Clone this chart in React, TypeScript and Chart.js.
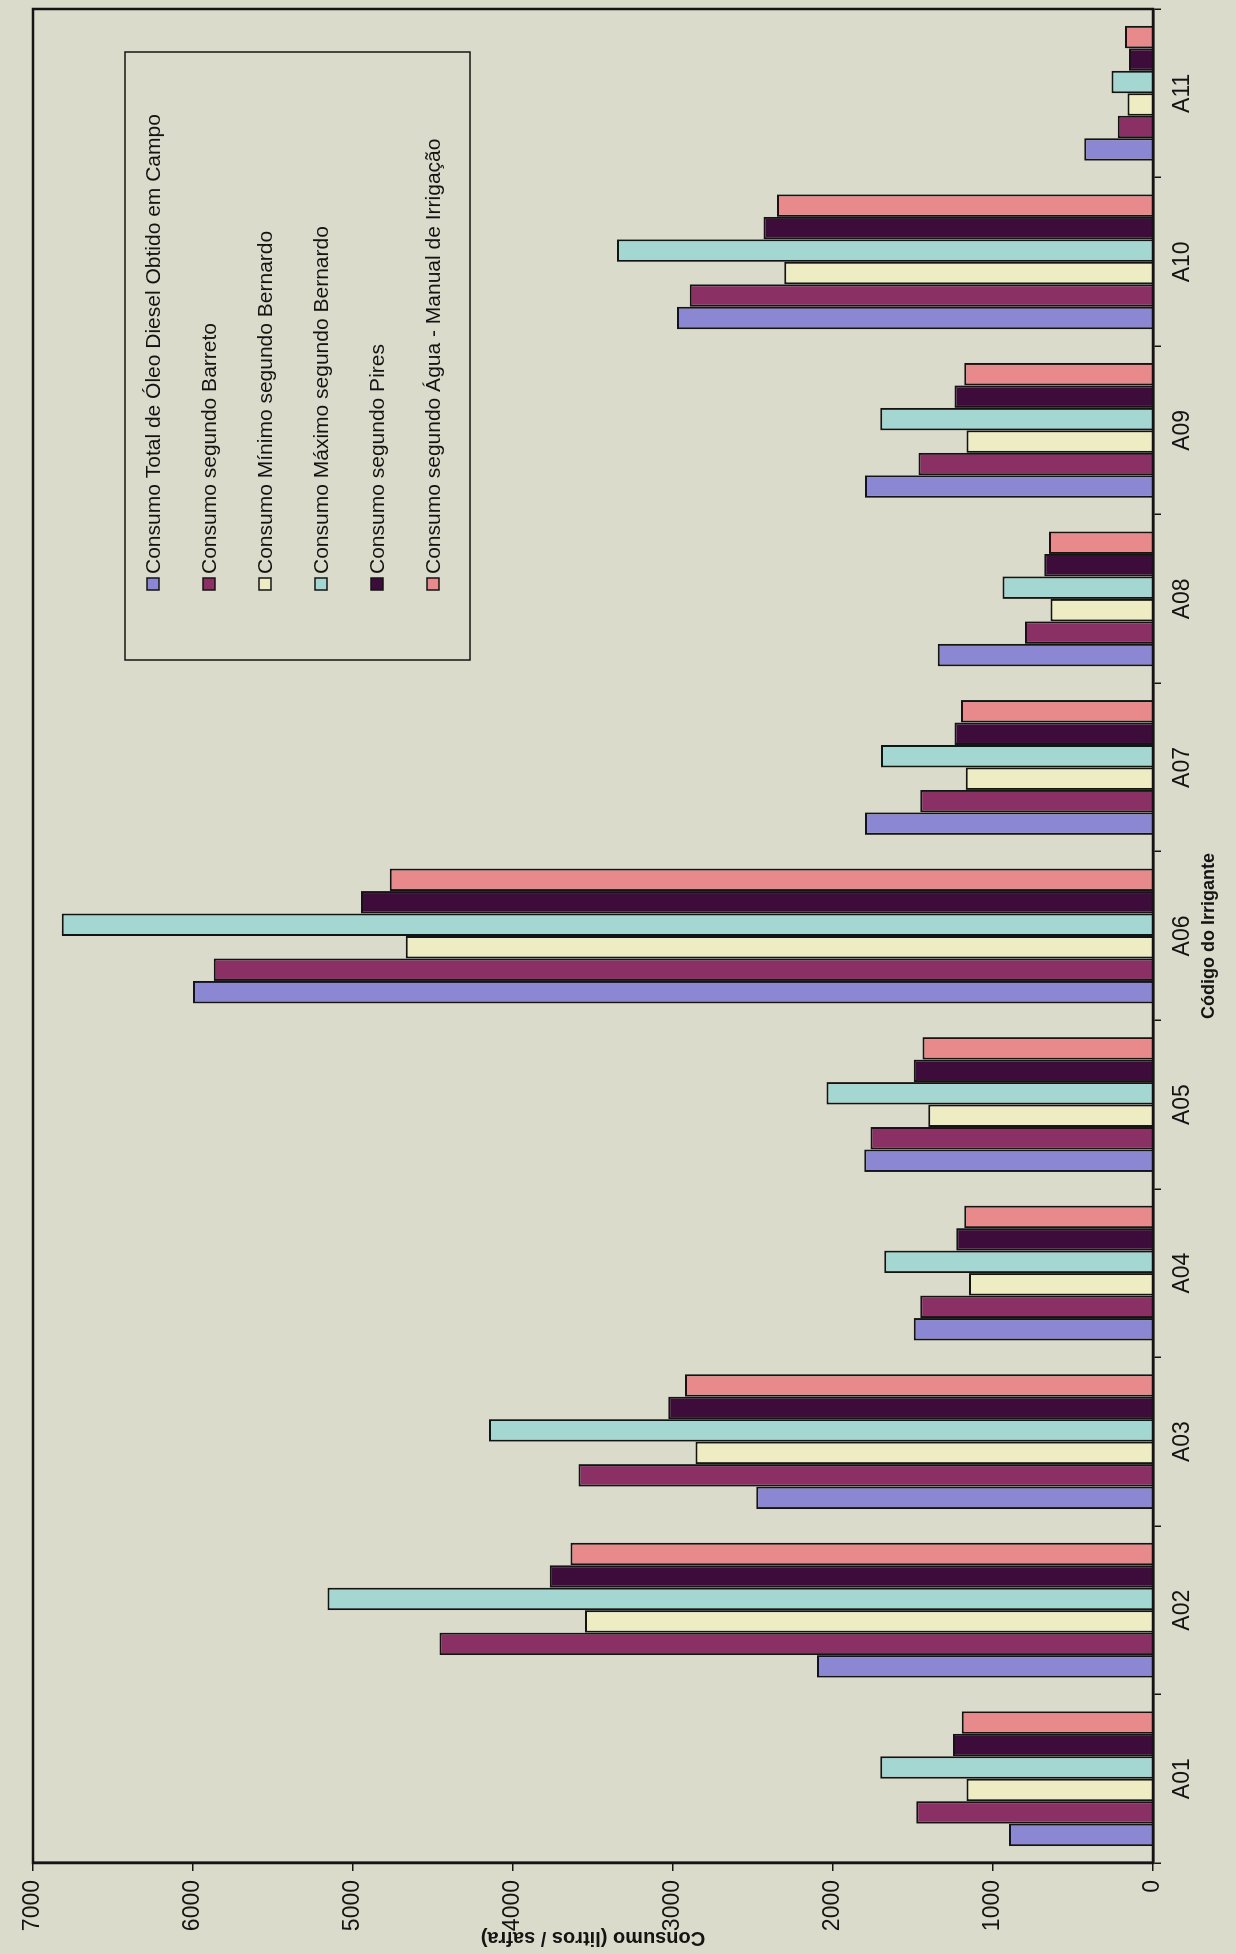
import React, { useEffect, useRef } from 'react';
import { Chart, registerables } from 'chart.js';

Chart.register(...registerables);

// ---- data ----
const categories = ['A01', 'A02', 'A03', 'A04', 'A05', 'A06', 'A07', 'A08', 'A09', 'A10', 'A11'];
const totalCampo = [900, 2100, 2480, 1495, 1805, 6000, 1800, 1345, 1800, 2975, 430];
const barreto = [1480, 4460, 3590, 1455, 1765, 5870, 1455, 800, 1465, 2895, 220];
const minimoBernardo = [1165, 3550, 2860, 1150, 1405, 4670, 1170, 640, 1165, 2305, 160];
const maximoBernardo = [1705, 5160, 4150, 1680, 2040, 6820, 1700, 940, 1705, 3350, 260];
const pires = [1250, 3770, 3030, 1230, 1495, 4950, 1240, 680, 1240, 2435, 150];
const aguaManual = [1195, 3640, 2925, 1180, 1440, 4770, 1200, 650, 1180, 2350, 175];

const seriesLabels = [
  'Consumo Total de Óleo Diesel Obtido em Campo',
  'Consumo segundo Barreto',
  'Consumo Mínimo segundo Bernardo',
  'Consumo Máximo segundo Bernardo',
  'Consumo segundo Pires',
  'Consumo segundo Água - Manual de Irrigação',
];
const seriesValues = [totalCampo, barreto, minimoBernardo, maximoBernardo, pires, aguaManual];
const seriesColors = ['#8b87d3', '#8a3064', '#eeecc2', '#a4d7d1', '#3e0c3a', '#e8898c'];

const valueTickLabels = ['0', '1000', '2000', '3000', '4000', '5000', '6000', '7000'];
const valueMin = 0;
const valueMax = 7000;
const valueStep = 1000;
const valueTitle = 'Consumo (litros / safra)';
const categoryTitle = 'Código do Irrigante';

const BG = '#dadbcb';
const INK = '#141414';
const FONT = "'Liberation Sans', Arial, sans-serif";

// canvas drawn unrotated, then turned 90° counter-clockwise (as in the scan)
const CW = 1954;
const CH = 1236;

const bgPlugin = {
  id: 'bg',
  beforeDraw(chart: any) {
    const { ctx, width, height } = chart;
    ctx.save();
    ctx.fillStyle = BG;
    ctx.fillRect(0, 0, width, height);
    ctx.restore();
  },
};

const framePlugin = {
  id: 'frame',
  afterDraw(chart: any) {
    const { ctx, chartArea } = chart;
    const { left, right, top, bottom } = chartArea;
    ctx.save();
    ctx.strokeStyle = INK;
    ctx.lineWidth = 2.5;
    ctx.strokeRect(left, top, right - left, bottom - top);

    // legend box
    const bx = right - 651;
    const by = top + 92;
    const bw = 608;
    const bh = 345;
    ctx.fillStyle = BG;
    ctx.fillRect(bx, by, bw, bh);
    ctx.lineWidth = 1.5;
    ctx.strokeRect(bx, by, bw, bh);
    ctx.font = `21px ${FONT}`;
    ctx.textBaseline = 'middle';
    ctx.textAlign = 'left';
    chart.data.datasets.forEach((ds: any, i: number) => {
      const cy = by + 28 + i * 56;
      const sx = bx + 70;
      ctx.fillStyle = ds.backgroundColor;
      ctx.fillRect(sx, cy - 6, 12, 12);
      ctx.lineWidth = 1.5;
      ctx.strokeStyle = INK;
      ctx.strokeRect(sx, cy - 6, 12, 12);
      ctx.fillStyle = INK;
      ctx.fillText(ds.label, sx + 16, cy + 1);
    });
    ctx.restore();
  },
};

export default function App() {
  const canvasRef = useRef<HTMLCanvasElement | null>(null);

  useEffect(() => {
    if (!canvasRef.current) return;
    const chart = new Chart(canvasRef.current, {
      type: 'bar',
      data: {
        labels: categories,
        datasets: seriesLabels.map((label, i) => ({
          label,
          data: seriesValues[i],
          backgroundColor: seriesColors[i],
          borderColor: INK,
          borderWidth: 2,
          categoryPercentage: 0.8,
          barPercentage: 1.0,
        })),
      },
      options: {
        animation: false,
        responsive: false,
        devicePixelRatio: 1,
        layout: { padding: { top: 33, right: 9, left: 0, bottom: 12 } },
        plugins: {
          legend: { display: false },
          tooltip: { enabled: false },
        },
        scales: {
          x: {
            afterFit: (s: any) => {
              s.height = 71;
            },
            grid: {
              display: true,
              drawOnChartArea: false,
              drawTicks: true,
              tickLength: 8,
              color: INK,
              lineWidth: 1.5,
              offset: true,
            },
            border: { display: true, color: INK, width: 2.5 },
            ticks: {
              color: INK,
              font: { family: FONT, size: 23 },
              padding: 8,
              maxRotation: 0,
            },
            title: {
              display: true,
              text: categoryTitle,
              color: INK,
              font: { family: FONT, size: 18, weight: 'bold' },
              padding: { top: 0, bottom: 4 },
            },
          },
          y: {
            min: valueMin,
            max: valueMax,
            afterFit: (s: any) => {
              s.width = 91;
            },
            grid: {
              display: true,
              drawOnChartArea: false,
              drawTicks: true,
              tickLength: 8,
              color: INK,
              lineWidth: 1.5,
            },
            border: { display: true, color: INK, width: 2.5 },
            ticks: {
              stepSize: valueStep,
              color: INK,
              font: { family: FONT, size: 23 },
              padding: 9,
              callback: (_v: any, idx: number) => valueTickLabels[idx],
            },
            title: {
              display: true,
              text: valueTitle,
              color: INK,
              font: { family: FONT, size: 20, weight: 'bold' },
              padding: { top: 4, bottom: 0 },
            },
          },
        },
      },
      plugins: [bgPlugin, framePlugin],
    } as any);
    return () => chart.destroy();
  }, []);

  return (
    <div
      style={{
        position: 'absolute',
        left: 0,
        top: 0,
        width: CH,
        height: CW,
        overflow: 'hidden',
        background: BG,
      }}
    >
      <div
        style={{
          position: 'absolute',
          left: 0,
          top: 0,
          width: CW,
          height: CH,
          transformOrigin: '0 0',
          transform: `translate(0px, ${CW}px) rotate(-90deg)`,
        }}
      >
        <canvas
          ref={canvasRef}
          width={CW}
          height={CH}
          style={{ width: CW, height: CH, display: 'block' }}
        />
      </div>
    </div>
  );
}
